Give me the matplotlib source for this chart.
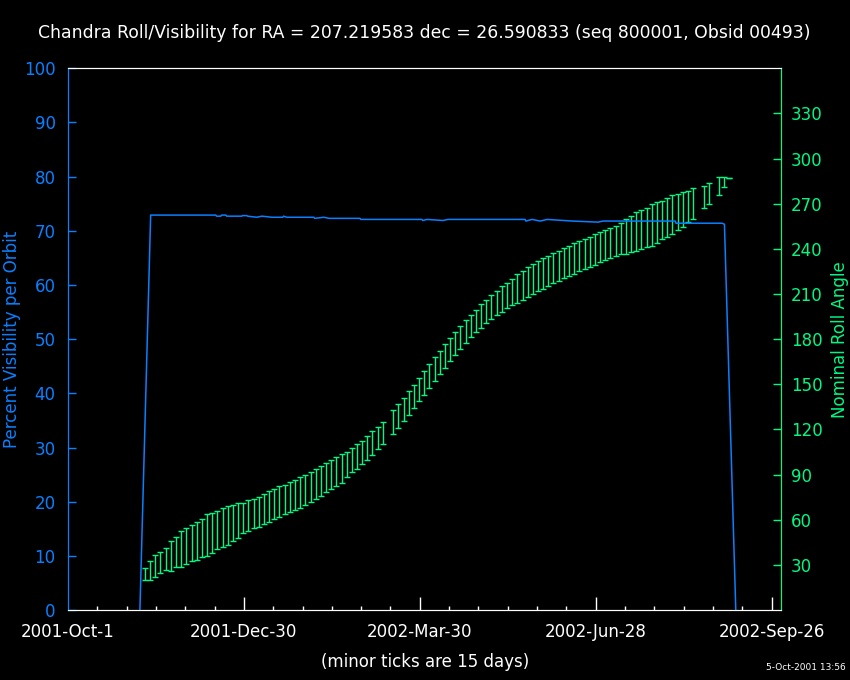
import matplotlib
matplotlib.use("Agg")
import matplotlib.pyplot as plt
from matplotlib.ticker import MultipleLocator, FixedLocator

# days since 2001-Oct-1
vis_days = [36.8, 42.3, 75.6, 76.0, 78.2, 78.6, 80.8, 81.2, 88.9, 89.3, 91.5, 91.9,
            96.6, 99.2, 104.3, 109.9, 110.3, 112.0, 125.8, 126.2, 130.9, 133.5,
            149.4, 149.8, 181.1, 181.5, 183.7, 191.9, 194.4, 233.9, 234.3, 237.5,
            241.6, 245.2, 258.0, 271.2, 273.8, 310.7, 311.1, 334.7, 335.9, 341.7]
vis_pct = [0.0, 72.9, 72.9, 72.7, 72.7, 72.9, 72.9, 72.7, 72.7, 72.8, 72.8, 72.7,
           72.5, 72.7, 72.5, 72.5, 72.7, 72.5, 72.5, 72.3, 72.5, 72.3,
           72.3, 72.1, 72.1, 71.9, 72.1, 71.9, 72.1, 72.1, 71.8, 72.1,
           71.8, 72.1, 71.8, 71.6, 71.8, 71.8, 71.4, 71.4, 71.2, 0.0]

roll_days = [39.4, 42.0, 44.7, 47.3, 50.0, 52.6, 55.3, 57.9, 60.6, 63.2,
             65.9, 68.5, 71.2, 73.8, 76.4, 79.1, 81.7, 84.4, 87.0, 89.7,
             92.3, 95.0, 97.6, 100.3, 102.9, 105.6, 108.2, 110.8, 113.5, 116.1,
             118.8, 121.4, 124.1, 126.7, 129.4, 132.0, 134.7, 137.3, 140.0, 142.6,
             145.2, 147.9, 150.5, 153.2, 155.8, 158.5, 161.1, 166.4, 169.1, 171.7,
             174.3, 177.0, 179.6, 182.3, 184.9, 187.6, 190.2, 192.9, 195.5, 198.2,
             200.8, 203.5, 206.1, 208.7, 211.4, 214.0, 216.7, 219.3, 222.0, 224.6,
             227.3, 229.9, 232.6, 235.2, 237.8, 240.5, 243.1, 245.8, 248.4, 251.1,
             253.7, 256.4, 259.0, 261.7, 264.3, 267.0, 269.6, 272.2, 274.9, 277.5,
             280.2, 282.8, 285.5, 288.1, 290.8, 293.4, 296.1, 298.7, 301.3, 304.0,
             306.6, 309.3, 311.9, 314.6, 317.2, 319.9, 325.2, 327.8, 333.1, 335.7,
             338.4]
roll_low = [19.7, 19.7, 21.7, 24.3, 26.3, 25.7, 28.3, 28.3, 30.3, 32.3,
            33.0, 35.0, 35.6, 37.6, 40.3, 41.6, 42.9, 46.2, 47.6, 50.9,
            52.2, 54.2, 55.5, 56.9, 58.8, 60.2, 61.5, 63.5, 65.0, 66.8,
            68.1, 70.1, 72.1, 74.1, 76.1, 78.1, 80.7, 82.7, 84.7, 88.7,
            91.4, 94.0, 97.3, 100.0, 103.3, 107.3, 110.6, 117.2, 121.2, 125.9,
            129.9, 134.5, 139.1, 143.1, 147.8, 152.4, 157.1, 161.0, 165.7, 169.7,
            173.7, 177.6, 181.6, 184.9, 187.6, 190.9, 193.6, 196.2, 198.2, 200.9,
            202.9, 204.2, 206.2, 208.2, 210.2, 212.1, 213.5, 215.5, 217.4, 218.8,
            220.8, 222.1, 223.4, 225.0, 226.7, 228.1, 229.4, 231.4, 232.7, 234.0,
            235.4, 236.7, 236.7, 238.0, 238.7, 240.0, 241.3, 242.0, 244.0, 246.6,
            248.0, 250.0, 252.6, 254.6, 257.9, 259.9, 267.2, 269.9, 275.8, 281.2,
            287.1]
roll_high = [27.7, 32.3, 36.3, 38.3, 40.9, 46.2, 48.2, 52.2, 54.2, 56.2,
             58.8, 60.8, 63.5, 64.8, 65.5, 67.5, 68.8, 69.5, 70.8, 70.8,
             72.8, 74.1, 75.4, 77.4, 78.8, 80.1, 82.1, 83.4, 85.4, 86.7,
             88.7, 90.0, 92.0, 94.0, 96.0, 98.0, 100.0, 102.0, 104.0, 105.3,
             108.0, 110.6, 112.6, 115.9, 119.2, 121.9, 125.2, 133.2, 137.1, 141.1,
             145.8, 149.8, 154.4, 159.0, 163.7, 168.3, 172.3, 177.0, 180.9, 184.9,
             188.9, 192.9, 196.2, 199.5, 203.5, 206.2, 209.5, 212.1, 215.5, 217.4,
             220.1, 223.4, 225.4, 228.1, 230.1, 232.0, 234.0, 235.4, 237.4, 238.7,
             240.7, 242.0, 244.0, 245.3, 246.6, 248.0, 250.0, 251.3, 252.6, 253.9,
             255.3, 257.3, 259.9, 261.9, 264.6, 265.9, 267.2, 269.9, 271.2, 271.9,
             273.9, 275.8, 276.5, 277.8, 278.5, 280.5, 281.8, 283.8, 287.8, 287.8,
             287.1]

date_ticks = [0, 90, 180, 270, 360]
date_labels = ['2001-Oct-1', '2001-Dec-30', '2002-Mar-30', '2002-Jun-28', '2002-Sep-26']
roll_ticks = [30, 60, 90, 120, 150, 180, 210, 240, 270, 300, 330]

BLUE = '#0a80ff'
GREEN = '#00f884'

fig = plt.figure(figsize=(8.5, 6.8), dpi=100, facecolor='black')
ax1 = fig.add_axes([0.08, 0.1029, 0.8392, 0.7967])
ax2 = ax1.twinx()
# visibility line sits on top of the roll bars
ax1.set_zorder(ax2.get_zorder() + 1)
ax1.set_facecolor('none')

mid = [(lo + hi) / 2 for lo, hi in zip(roll_low, roll_high)]
err = [[m - lo for m, lo in zip(mid, roll_low)], [hi - m for m, hi in zip(mid, roll_high)]]
ax2.errorbar(roll_days, mid, yerr=err, fmt='none', ecolor=GREEN, elinewidth=1.0,
             capsize=2.2, capthick=1.0)
ax1.plot(vis_days, vis_pct, color=BLUE, lw=1.1)

ax1.set_xlim(0, 365)
ax1.set_ylim(0, 100)
ax2.set_ylim(0, 360)

ax1.xaxis.set_major_locator(FixedLocator(date_ticks))
ax1.xaxis.set_minor_locator(MultipleLocator(15))
ax1.set_xticklabels(date_labels)
ax1.yaxis.set_major_locator(MultipleLocator(10))
ax2.yaxis.set_major_locator(FixedLocator(roll_ticks))

ax1.tick_params(axis='x', which='major', direction='in', length=9.5, width=1,
                color='white', labelcolor='white', labelsize=12, pad=9)
ax1.tick_params(axis='x', which='minor', direction='in', length=3.2, width=1, color='white')
ax1.tick_params(axis='y', direction='in', length=6, width=1, color=BLUE,
                labelcolor=BLUE, labelsize=12, pad=9)
ax2.tick_params(axis='y', direction='in', length=6, width=1, color=GREEN,
                labelcolor=GREEN, labelsize=12, pad=7)
# the first date tick sits on the left spine
ax1.xaxis.get_major_ticks()[0].tick1line.set_visible(False)

for ax in (ax1, ax2):
    ax.spines['left'].set_color(BLUE)
    ax.spines['right'].set_color(GREEN)
    ax.spines['top'].set_color('white')
    ax.spines['bottom'].set_color('white')

ax1.set_ylabel('Percent Visibility per Orbit', color=BLUE, fontsize=12, labelpad=2)
ax2.set_ylabel('Nominal Roll Angle', color=GREEN, fontsize=12, labelpad=6)
ax1.set_xlabel('(minor ticks are 15 days)', color='white', fontsize=12, labelpad=9)
ax1.set_title('Chandra Roll/Visibility for RA = 207.219583 dec = 26.590833 (seq 800001, Obsid 00493)',
              color='white', fontsize=12.4, pad=22)
fig.text(0.995, 1 - 668 / 680, '5-Oct-2001 13:56', color='white', fontsize=6.5,
         ha='right', va='center')

fig.savefig('out.png', dpi=100, facecolor='black')
